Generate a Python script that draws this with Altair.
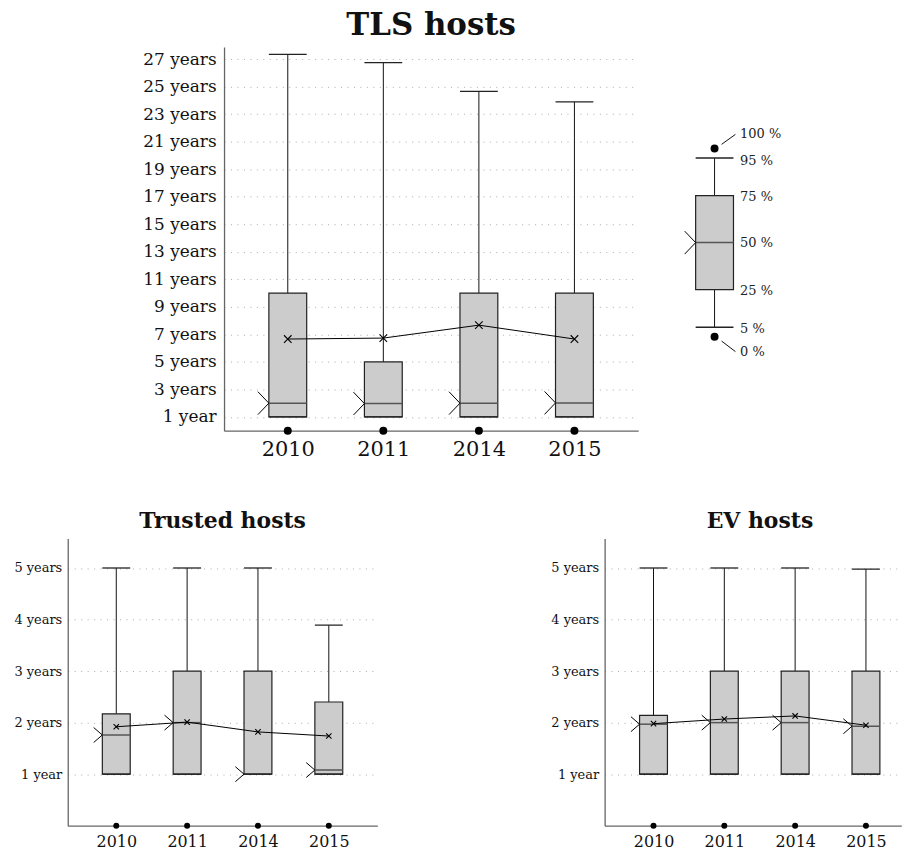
import altair as alt
import pandas as pd

# ---------------- data ----------------
years = ["2010", "2011", "2014", "2015"]

tls_min = [0, 0, 0, 0]
tls_p5 = [1, 1, 1, 1]
tls_q1 = [1, 1, 1, 1]
tls_median = [2.0, 1.97, 2.0, 2.02]
tls_q3 = [10, 5, 10, 10]
tls_p95 = [27.35, 26.75, 24.65, 23.9]
tls_mean = [6.66, 6.73, 7.67, 6.66]

trusted_min = [0, 0, 0, 0]
trusted_p5 = [1, 1, 1, 1]
trusted_q1 = [1, 1, 1, 1]
trusted_median = [1.76, 2.0, 1.0, 1.08]
trusted_q3 = [2.17, 3.0, 3.0, 2.40]
trusted_p95 = [5, 5, 5, 3.89]
trusted_mean = [1.92, 2.01, 1.82, 1.74]

ev_min = [0, 0, 0, 0]
ev_p5 = [1, 1, 1, 1]
ev_q1 = [1, 1, 1, 1]
ev_median = [1.97, 2.0, 2.0, 1.93]
ev_q3 = [2.14, 3, 3, 3]
ev_p95 = [5, 5, 5, 4.98]
ev_mean = [1.98, 2.07, 2.13, 1.95]

tls_ticks = [1, 3, 5, 7, 9, 11, 13, 15, 17, 19, 21, 23, 25, 27]
small_ticks = [1, 2, 3, 4, 5]

# schematic legend box (percentile levels on an arbitrary scale)
legend_levels = [0, 1, 5, 10, 15, 19, 20]
legend_labels = ["0 %", "5 %", "25 %", "50 %", "75 %", "95 %", "100 %"]
legend_label_pos = [-1.59, 0.86, 4.9, 9.97, 14.9, 18.71, 21.51]

FONT = "DejaVu Serif"
year_expr = "[" + ",".join("'%s'" % y for y in years) + "][datum.value]"
year_label_expr = "datum.value == 1 ? '1 year' : datum.value + ' years'"


def box_chart(title, mn, p5, q1, med, q3, p95, mean, *, width, height, xdomain,
              ydomain, ticks, box_w, dot_size, cross_half, notch_len, notch_half,
              ylab_fs, xlab_fs, title_fs, title_offset, title_dx, ylab_pad, xlab_pad,
              xextent):
    df = pd.DataFrame({
        "idx": list(range(len(years))), "year": years, "min": mn, "p5": p5,
        "q1": q1, "median": med, "q3": q3, "p95": p95, "mean": mean,
    })
    xenc = alt.X("idx:Q", scale=alt.Scale(domain=xdomain, nice=False, zero=False),
                 axis=alt.Axis(values=list(range(len(years))), labelExpr=year_expr,
                               title=None, grid=False, ticks=False,
                               labelFontSize=xlab_fs, labelPadding=xlab_pad,
                               minExtent=xextent, maxExtent=xextent))
    yscale = alt.Scale(domain=ydomain, nice=False, zero=False)
    yaxis = alt.Axis(values=ticks, labelExpr=year_label_expr, title=None, grid=True,
                     ticks=False, labelFontSize=ylab_fs, labelPadding=ylab_pad)

    def Y(f):
        return alt.Y(f + ":Q", scale=yscale, axis=yaxis)

    base = alt.Chart(df)
    half = box_w / 2.0
    notch = "M %g %g L %g 0 L %g %g" % (-(half + notch_len), -notch_half, -half,
                                        -(half + notch_len), notch_half)
    cross = "M %g %g L %g %g M %g %g L %g %g" % (-cross_half, -cross_half, cross_half,
                                                 cross_half, -cross_half, cross_half,
                                                 cross_half, -cross_half)

    upper = base.mark_rule(color="#111", strokeWidth=1).encode(x=xenc, y=Y("q3"), y2="p95")
    lower = base.mark_rule(color="#111", strokeWidth=1).encode(x=xenc, y=Y("p5"), y2="q1")
    box = base.mark_bar(size=box_w, fill="#cccccc", stroke="#222", strokeWidth=1.2,
                        opacity=1).encode(x=xenc, y=Y("q1"), y2="q3")
    median = base.mark_tick(orient="horizontal", size=box_w, thickness=1.5,
                            color="#555", opacity=1).encode(x=xenc, y=Y("median"))
    cap_hi = base.mark_tick(orient="horizontal", size=box_w, thickness=1.3,
                            color="#222", opacity=1).encode(x=xenc, y=Y("p95"))
    cap_lo = base.mark_tick(orient="horizontal", size=box_w, thickness=1.3,
                            color="#222", opacity=1).encode(x=xenc, y=Y("p5"))
    dots = base.mark_point(shape="circle", filled=True, size=dot_size, color="#000",
                           opacity=1).encode(x=xenc, y=Y("min"))
    mline = base.mark_line(color="#000", strokeWidth=1).encode(x=xenc, y=Y("mean"))
    mpts = base.mark_point(shape=cross, size=4, filled=False, stroke="#000",
                           strokeWidth=1.1, opacity=1).encode(x=xenc, y=Y("mean"))
    notch_m = base.mark_point(shape=notch, size=4, filled=False, stroke="#000",
                              strokeWidth=1, opacity=1).encode(x=xenc, y=Y("median"))

    return alt.layer(upper, lower, box, median, cap_hi, cap_lo, dots, mline, mpts,
                     notch_m).properties(
        width=width, height=height,
        title=alt.TitleParams(text=title, font=FONT, fontSize=title_fs,
                              fontWeight="bold", color="#111", offset=title_offset,
                              dx=title_dx))


tls = box_chart("TLS hosts", tls_min, tls_p5, tls_q1, tls_median, tls_q3, tls_p95,
                tls_mean, width=416, height=385.4, xdomain=[-0.615, 3.615],
                ydomain=[0, 27.88], ticks=tls_ticks, box_w=38, dot_size=64,
                cross_half=3.8, notch_len=11, notch_half=11.5, ylab_fs=17,
                xlab_fs=21, title_fs=31, title_offset=4.7, title_dx=0,
                ylab_pad=8, xlab_pad=8, xextent=29)

trusted = box_chart("Trusted hosts", trusted_min, trusted_p5, trusted_q1,
                    trusted_median, trusted_q3, trusted_p95, trusted_mean,
                    width=311, height=288.4, xdomain=[-0.615, 3.615],
                    ydomain=[0, 5.57], ticks=small_ticks, box_w=28, dot_size=36,
                    cross_half=2.7, notch_len=8.7, notch_half=7.5, ylab_fs=13,
                    xlab_fs=16, title_fs=22, title_offset=6, title_dx=0,
                    ylab_pad=6, xlab_pad=8, xextent=15)

ev = box_chart("EV hosts", ev_min, ev_p5, ev_q1, ev_median, ev_q3, ev_p95, ev_mean,
               width=298, height=288.4, xdomain=[-0.62, 3.429],
               ydomain=[0, 5.57], ticks=small_ticks, box_w=28, dot_size=36,
               cross_half=2.7, notch_len=8.7, notch_half=7.5, ylab_fs=13,
               xlab_fs=16, title_fs=22, title_offset=6, title_dx=7,
               ylab_pad=6, xlab_pad=8, xextent=15)

# ---------------- schematic legend ----------------
leg = pd.DataFrame({"level": legend_levels, "label": legend_labels,
                    "lpos": legend_label_pos})
leg_box = pd.DataFrame({"c": [0], "p0": [legend_levels[0]], "p5": [legend_levels[1]],
                        "q1": [legend_levels[2]], "med": [legend_levels[3]],
                        "q3": [legend_levels[4]], "p95": [legend_levels[5]],
                        "p100": [legend_levels[6]]})
leaders = pd.DataFrame({"x1": [7.6, 7.6], "x2": [22.6, 22.6],
                        "y1": [20.45, -0.47], "y2": [21.51, -1.59]})
LX = alt.Scale(domain=[-55.7, 84.3], nice=False, zero=False)
LY = alt.Scale(domain=[-10, 30.8], nice=False, zero=False)


def lx(f):
    return alt.X(f + ":Q", scale=LX, axis=None)


def ly(f):
    return alt.Y(f + ":Q", scale=LY, axis=None)


lb = alt.Chart(leg_box)
leg_notch = "M -30 -11.5 L -19 0 L -30 11.5"
legend = alt.layer(
    lb.mark_rule(color="#111").encode(x=lx("c"), y=ly("q3"), y2="p95"),
    lb.mark_rule(color="#111").encode(x=lx("c"), y=ly("p5"), y2="q1"),
    lb.mark_bar(size=38, fill="#cccccc", stroke="#222", strokeWidth=1.2,
                opacity=1).encode(x=lx("c"), y=ly("q1"), y2="q3"),
    lb.mark_tick(orient="horizontal", size=38, thickness=1.5, color="#555",
                 opacity=1).encode(x=lx("c"), y=ly("med")),
    lb.mark_tick(orient="horizontal", size=38, thickness=1.3, color="#222",
                 opacity=1).encode(x=lx("c"), y=ly("p95")),
    lb.mark_tick(orient="horizontal", size=38, thickness=1.3, color="#222",
                 opacity=1).encode(x=lx("c"), y=ly("p5")),
    lb.mark_point(shape="circle", filled=True, size=64, color="#000",
                  opacity=1).encode(x=lx("c"), y=ly("p0")),
    lb.mark_point(shape="circle", filled=True, size=64, color="#000",
                  opacity=1).encode(x=lx("c"), y=ly("p100")),
    lb.mark_point(shape=leg_notch, size=4, filled=False, stroke="#000",
                  strokeWidth=1, opacity=1).encode(x=lx("c"), y=ly("med")),
    alt.Chart(leaders).mark_rule(color="#111").encode(x=lx("x1"), x2="x2",
                                                      y=ly("y1"), y2="y2"),
    alt.Chart(leg).mark_text(align="left", baseline="middle", font=FONT,
                             fontSize=13, color="#222").encode(
        x=alt.X("xpos:Q", scale=LX, axis=None), y=ly("lpos"), text="label:N"
    ).transform_calculate(xpos="27.6"),
).properties(width=140, height=385.4)

spacer = alt.Chart(pd.DataFrame({"s": [0]})).mark_point(opacity=0).encode(
    x=alt.X("s:Q", axis=None), y=alt.Y("s:Q", axis=None)
).properties(width=137, height=10)

top_row = alt.hconcat(spacer, tls, legend, spacing=20, bounds="flush")
bottom_row = alt.hconcat(trusted, ev, spacing=228.3, bounds="flush")

chart = alt.vconcat(top_row, bottom_row, spacing=49.8, bounds="full").properties(
    padding={"left": 5, "top": 0.3, "right": 0, "bottom": 0},
    background="white",
).configure_view(stroke=None).configure_axis(
    domainColor="#666", domainWidth=1.3, labelFont=FONT, labelColor="#111",
    gridColor="#aaa", gridDash=[1, 5.5], gridWidth=1,
)

chart.save("out.html", embed_options={"renderer": "svg", "actions": False})
